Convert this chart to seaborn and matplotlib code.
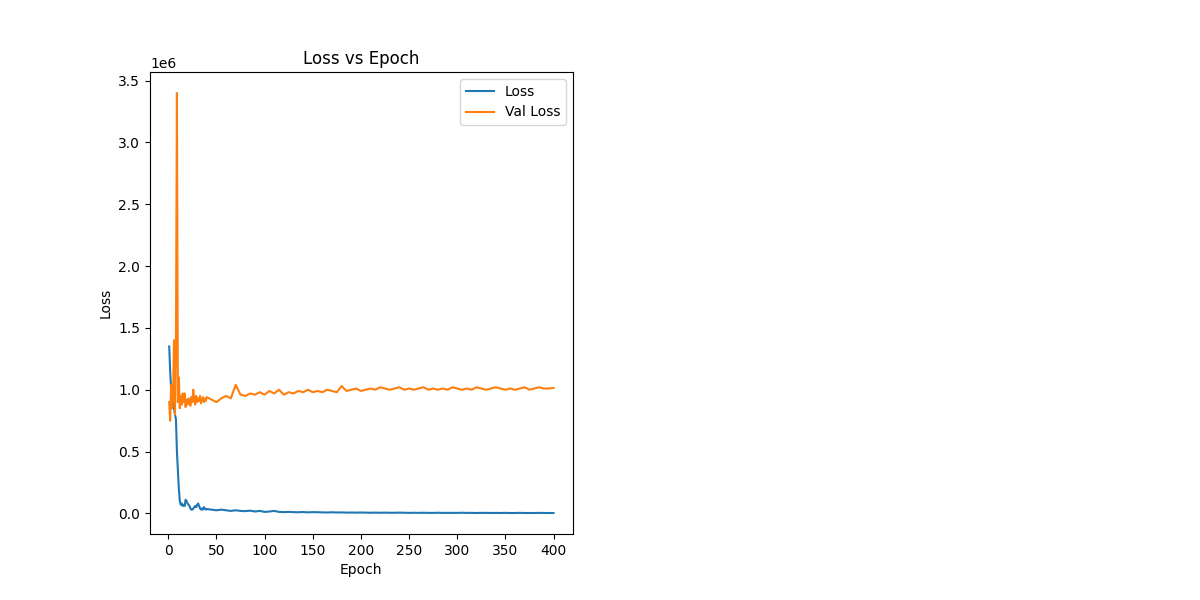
import numpy as np
import matplotlib.pyplot as plt
import seaborn as sns

# first 40 epochs read one by one, then every 5 epochs
epochs = list(range(1, 41)) + list(range(45, 401, 5))

loss = [1.35e6, 1.15e6, 1.0e6, 0.95e6, 0.9e6, 0.85e6, 0.8e6, 0.76e6, 0.5e6, 0.35e6,
        0.2e6, 0.1e6, 0.07e6, 0.08e6, 0.06e6, 0.07e6, 0.06e6, 0.11e6, 0.1e6, 0.08e6,
        0.07e6, 0.06e6, 0.04e6, 0.03e6, 0.03e6, 0.04e6, 0.05e6, 0.06e6, 0.05e6, 0.07e6,
        0.08e6, 0.06e6, 0.04e6, 0.03e6, 0.04e6, 0.03e6, 0.05e6, 0.04e6, 0.03e6, 0.035e6,
        0.03e6, 0.025e6, 0.03e6, 0.025e6, 0.02e6, 0.025e6, 0.02e6, 0.018e6, 0.022e6, 0.015e6,
        0.02e6, 0.012e6, 0.015e6, 0.02e6, 0.012e6, 0.01e6, 0.012e6, 0.01e6, 0.009e6, 0.011e6,
        0.008e6, 0.01e6, 0.009e6, 0.008e6, 0.007e6, 0.009e6, 0.007e6, 0.008e6, 0.006e6, 0.007e6,
        0.006e6, 0.007e6, 0.006e6, 0.005e6, 0.006e6, 0.005e6, 0.006e6, 0.005e6, 0.005e6, 0.006e6,
        0.005e6, 0.004e6, 0.005e6, 0.004e6, 0.005e6, 0.004e6, 0.004e6, 0.005e6, 0.004e6, 0.004e6,
        0.004e6, 0.004e6, 0.005e6, 0.004e6, 0.004e6, 0.003e6, 0.004e6, 0.004e6, 0.003e6, 0.004e6,
        0.003e6, 0.004e6, 0.003e6, 0.003e6, 0.004e6, 0.003e6, 0.003e6, 0.003e6, 0.004e6, 0.003e6,
        0.003e6, 0.003e6]

val_loss = [0.9e6, 0.75e6, 1.04e6, 0.85e6, 0.95e6, 1.4e6, 0.8e6, 1.42e6, 3.4e6, 0.9e6,
            1.1e6, 0.85e6, 0.95e6, 0.88e6, 0.97e6, 0.9e6, 0.97e6, 0.86e6, 0.92e6, 0.88e6,
            0.93e6, 0.9e6, 0.87e6, 0.94e6, 0.9e6, 1.0e6, 0.92e6, 0.88e6, 0.95e6, 0.9e6,
            0.93e6, 0.91e6, 0.95e6, 0.89e6, 0.92e6, 0.94e6, 0.9e6, 0.93e6, 0.91e6, 0.94e6,
            0.92e6, 0.90e6, 0.93e6, 0.95e6, 0.93e6, 1.04e6, 0.96e6, 0.95e6, 0.97e6, 0.96e6,
            0.98e6, 0.96e6, 0.99e6, 0.97e6, 1.0e6, 0.96e6, 0.98e6, 0.97e6, 0.99e6, 0.98e6,
            1.0e6, 0.98e6, 0.99e6, 0.98e6, 1.0e6, 0.99e6, 0.98e6, 1.03e6, 0.99e6, 1.0e6,
            1.01e6, 0.99e6, 1.0e6, 1.01e6, 1.0e6, 1.02e6, 1.01e6, 1.0e6, 1.01e6, 1.02e6,
            1.0e6, 1.01e6, 1.0e6, 1.01e6, 1.02e6, 1.0e6, 1.01e6, 1.0e6, 1.01e6, 1.0e6,
            1.02e6, 1.01e6, 1.0e6, 1.01e6, 1.0e6, 1.02e6, 1.01e6, 1.0e6, 1.01e6, 1.02e6,
            1.01e6, 1.0e6, 1.01e6, 1.0e6, 1.01e6, 1.02e6, 1.0e6, 1.01e6, 1.02e6, 1.01e6,
            1.01e6, 1.015e6]

fig = plt.figure(figsize=(12, 6), dpi=100)
ax = fig.add_subplot(1, 2, 1)
sns.lineplot(x=epochs, y=loss, label="Loss", ax=ax)
sns.lineplot(x=epochs, y=val_loss, label="Val Loss", ax=ax)
ax.set_title("Loss vs Epoch")
ax.set_xlabel("Epoch")
ax.set_ylabel("Loss")
ax.legend(loc="upper right")
fig.savefig("out.png")
